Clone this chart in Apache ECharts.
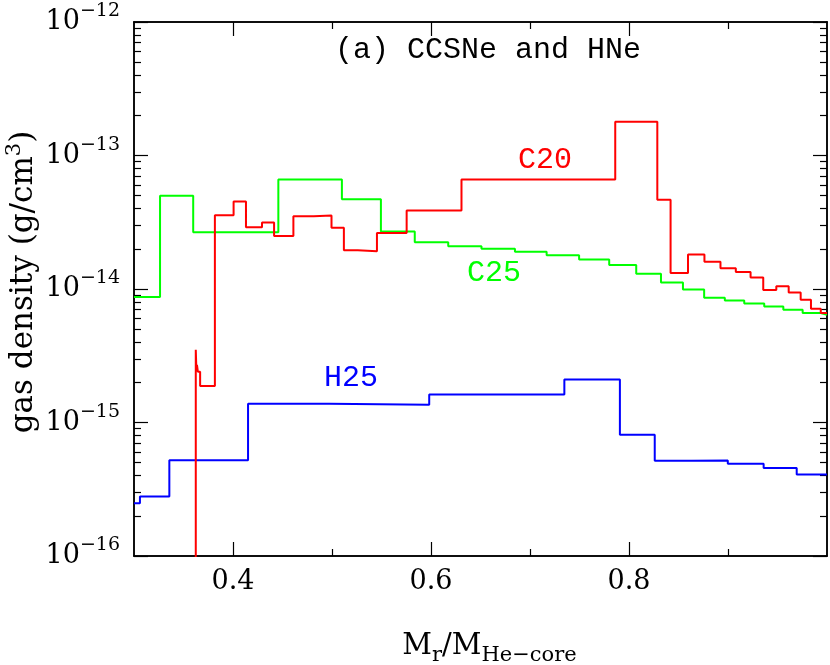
<!DOCTYPE html>
<html>
<head>
<meta charset="utf-8">
<script src="https://cdn.jsdelivr.net/npm/echarts@6/dist/echarts.min.js"></script>
<style>
  html, body { margin: 0; padding: 0; background: #fff; }
  #chart { width: 830px; height: 665px; }
</style>
</head>
<body>
<div id="chart"></div>
<script>
// step edges (left side of each bin) and values
const c20X = [0.3624, 0.3624, 0.3630, 0.3636, 0.3645, 0.3668, 0.3817, 0.4006, 0.4131, 0.4293, 0.4415,
    0.461, 0.4816, 0.4995, 0.512, 0.526, 0.5454, 0.5754, 0.6308, 0.7861, 0.8286, 0.842, 0.8596,
    0.8762, 0.8924, 0.9079, 0.9228, 0.9356, 0.9488, 0.9613, 0.9734, 0.9838, 0.9937, 1.0];
const c20Y = [1e-18, 3.5e-15, 2.5e-15, 2.7e-15, 2.4e-15, 1.88e-15, 3.57e-14, 4.53e-14, 2.9e-14, 3.15e-14, 2.5e-14,
    3.5e-14, 3.55e-14, 2.87e-14, 1.95e-14, 1.92e-14, 2.63e-14, 3.87e-14, 6.6e-14, 1.79e-13, 4.66e-14, 1.32e-14, 1.81e-14,
    1.6e-14, 1.43e-14, 1.34e-14, 1.22e-14, 9.85e-15, 1.05e-14, 9.4e-15, 8.3e-15, 7.1e-15, 6.6e-15, 6.6e-15];

const c25X = [0.3, 0.3263, 0.3598, 0.4458, 0.51, 0.5494, 0.5836, 0.6174, 0.651, 0.6848, 0.7168, 0.7496,
    0.78, 0.8073, 0.8323, 0.8545, 0.8759, 0.8968, 0.9164, 0.9366, 0.9559, 0.9754, 0.9937, 1.0];
const c25Y = [8.7e-15, 5.0e-14, 2.66e-14, 6.6e-14, 4.7e-14, 2.7e-14, 2.24e-14, 2.09e-14, 2.0e-14, 1.9e-14, 1.79e-14, 1.66e-14,
    1.51e-14, 1.3e-14, 1.12e-14, 9.9e-15, 8.6e-15, 8.2e-15, 7.8e-15, 7.4e-15, 7.0e-15, 6.6e-15, 6.4e-15, 6.4e-15];

const h25X = [0.3, 0.306, 0.3357, 0.4152, 0.497, 0.5982, 0.7347, 0.7908, 0.826, 0.8636, 0.8998, 0.936, 0.9694, 1.0];
const h25Y = [2.48e-16, 2.79e-16, 5.22e-16, 1.38e-15, 1.36e-15, 1.62e-15, 2.1e-15, 8.1e-16, 5.16e-16, 5.2e-16,
    4.9e-16, 4.57e-16, 4.07e-16, 4.07e-16];

const xMajor = [0.4, 0.6, 0.8];
const xMinor = [0.5, 0.7, 0.9];
const yMajor = [1e-16, 1e-15, 1e-14, 1e-13, 1e-12];
const yMinor = [];
yMajor.slice(0, 4).forEach((d) => {
    for (let k = 2; k <= 9; k++) yMinor.push(k * d);
});

const serif = 'DejaVu Serif';

const pairs = (xs, ys) => xs.map((x, i) => [x, ys[i]]);

const chart = echarts.init(document.getElementById('chart'));

const axisLine = { show: true, lineStyle: { color: '#000', width: 1.5 } };

function xAxis(position, ticks, len, labels) {
    return {
        type: 'value',
        position: position,
        min: 0.3,
        max: 1.0,
        axisLine: axisLine,
        splitLine: { show: false },
        axisTick: { show: true, inside: true, length: len, customValues: ticks, lineStyle: { color: '#000', width: 1.2 } },
        axisLabel: labels ? {
            show: true,
            customValues: xMajor,
            margin: 12,
            color: '#000',
            fontFamily: serif,
            fontSize: 27,
            formatter: (v) => v.toFixed(1),
        } : { show: false },
    };
}

function yAxis(position, ticks, len, labels) {
    return {
        type: 'log',
        logBase: 10,
        position: position,
        min: 1e-16,
        max: 1e-12,
        axisLine: axisLine,
        splitLine: { show: false },
        minorTick: { show: false },
        axisTick: { show: true, inside: true, length: len, customValues: ticks, lineStyle: { color: '#000', width: 1.2 } },
        axisLabel: labels ? {
            show: true,
            customValues: yMajor,
            margin: 14,
            formatter: (v) => '{b|10}{s|\u2212' + Math.round(-Math.log10(v)) + '}',
            rich: {
                b: { fontFamily: serif, fontSize: 27, lineHeight: 40, color: '#000' },
                s: { fontFamily: serif, fontSize: 19, lineHeight: 19, padding: [0, 0, 21, 0], color: '#000' },
            },
        } : { show: false },
    };
}

const xAxes = [
    xAxis('bottom', xMajor, 14, true),
    xAxis('bottom', xMinor, 7, false),
    xAxis('top', xMajor, 14, false),
    xAxis('top', xMinor, 7, false),
];
xAxes[0].name = '{b|M}{u|r}{b|/M}{u|He\u2212core}';
xAxes[0].nameLocation = 'middle';
xAxes[0].nameGap = 70;
xAxes[0].nameMoveOverlap = false;
xAxes[0].nameTextStyle = {
    padding: [0, 0, 0, 18],
    rich: {
        b: { fontFamily: serif, fontSize: 29, lineHeight: 40, color: '#000' },
        u: { fontFamily: serif, fontSize: 21, lineHeight: 21, padding: [20, 0, 0, 0], color: '#000' },
    },
};

const yAxes = [
    yAxis('left', yMajor, 14, true),
    yAxis('left', yMinor, 7, false),
    yAxis('right', yMajor, 14, false),
    yAxis('right', yMinor, 7, false),
];
yAxes[0].name = '{b|gas density (g/cm}{s|3}{b|)}';
yAxes[0].nameLocation = 'middle';
yAxes[0].nameGap = 90;
yAxes[0].nameMoveOverlap = false;
yAxes[0].nameTextStyle = {
    padding: [0, 0, 0, 14],
    rich: {
        b: { fontFamily: serif, fontSize: 31, lineHeight: 40, color: '#000' },
        s: { fontFamily: serif, fontSize: 21, lineHeight: 21, padding: [0, 0, 19, 0], color: '#000' },
    },
};

function stepSeries(name, xs, ys, color) {
    return {
        name: name,
        type: 'line',
        step: 'end',
        xAxisIndex: 0,
        yAxisIndex: 0,
        data: pairs(xs, ys),
        showSymbol: false,
        symbol: 'none',
        clip: true,
        animation: false,
        lineStyle: { color: color, width: 2 },
    };
}

chart.setOption({
    animation: false,
    backgroundColor: '#fff',
    grid: { left: 134, top: 22, width: 693, height: 534, containLabel: false, outerBoundsMode: 'none' },
    xAxis: xAxes,
    yAxis: yAxes,
    series: [
        stepSeries('C25', c25X, c25Y, '#00ff00'),
        stepSeries('H25', h25X, h25Y, '#0000ff'),
        stepSeries('C20', c20X, c20Y, '#ff0000'),
    ],
    graphic: [
        { type: 'text', x: 488, y: 50, style: { text: '(a) CCSNe and HNe', font: '30px "Liberation Mono"', fill: '#000', align: 'center', verticalAlign: 'middle' } },
        { type: 'text', x: 545, y: 160, style: { text: 'C20', font: '30px "Liberation Mono"', fill: '#ff0000', align: 'center', verticalAlign: 'middle' } },
        { type: 'text', x: 494, y: 273, style: { text: 'C25', font: '30px "Liberation Mono"', fill: '#00ff00', align: 'center', verticalAlign: 'middle' } },
        { type: 'text', x: 351, y: 378, style: { text: 'H25', font: '30px "Liberation Mono"', fill: '#0000ff', align: 'center', verticalAlign: 'middle' } },
    ],
});
</script>
</body>
</html>
